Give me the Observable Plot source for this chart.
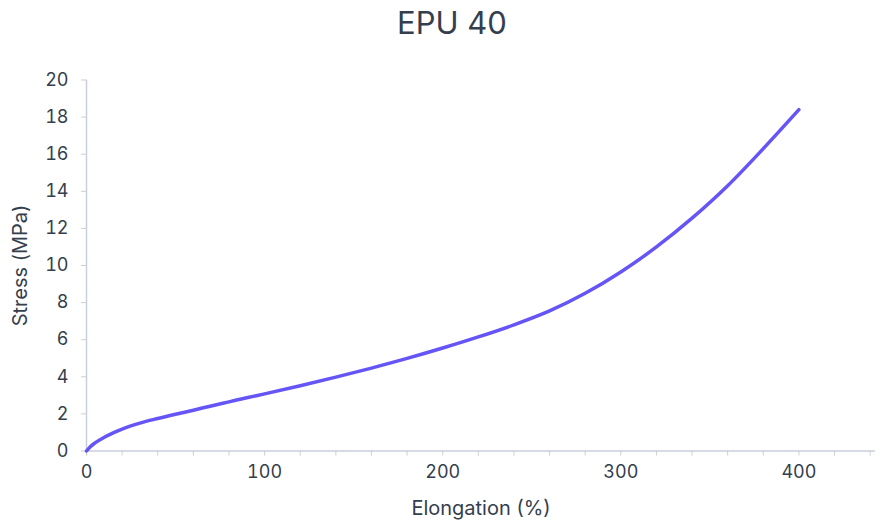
<!DOCTYPE html>
<html>
<head>
<meta charset="utf-8">
<script src="https://cdn.jsdelivr.net/npm/d3@7"></script>
<script src="https://cdn.jsdelivr.net/npm/@observablehq/plot@0.6"></script>
<style>
  body { margin: 0; background: #fff; font-family: Inter, "Noto Sans", sans-serif; }
  #title { height: 50px; position: relative; }
  #title span { position: absolute; left: 452px; top: 22px; transform: translate(-50%, -50%); font-size: 31px; color: #343e4d; white-space: nowrap; }
</style>
</head>
<body>
<div id="title"><span>EPU 40</span></div>
<div id="chart"></div>
<script>
const elongation = [0, 2, 5, 10, 15, 20, 30, 40, 50, 60, 70, 80, 90, 100, 120, 140, 160, 180, 200, 220, 240, 260, 280, 300, 320, 340, 360, 380, 400];
const stress     = [0, 0.22, 0.45, 0.74, 0.98, 1.18, 1.5, 1.75, 1.98, 2.2, 2.43, 2.65, 2.87, 3.08, 3.52, 3.98, 4.47, 4.99, 5.55, 6.15, 6.8, 7.55, 8.5, 9.65, 11.0, 12.55, 14.3, 16.3, 18.4];
const xTicks = d3.range(0, 441, 20);
const yTicks = d3.range(0, 21, 2);
const data = elongation.map((e, i) => ({e, s: stress[i]}));

const axisGray = "#c9ced9";
const textColor = "#343e4d";

const chart = Plot.plot({
  width: 877,
  height: 475,
  marginLeft: 86,
  marginRight: 2,
  marginTop: 29.5,
  marginBottom: 74.5,
  style: {fontFamily: "Inter, 'Noto Sans', sans-serif", fontSize: "18px", color: textColor, background: "#fff"},
  x: {domain: [0, 443]},
  y: {domain: [0, 20]},
  marks: [
    Plot.axisX({ticks: xTicks, tickFormat: d => d % 100 === 0 ? d : "", tickSize: 5, tickPadding: 9, stroke: axisGray, fill: textColor,
      label: null, fontSize: 18}),
    Plot.axisX({ticks: [], label: "Elongation (%)", labelAnchor: "center", labelArrow: "none", labelOffset: 64, fontSize: 20, fill: textColor}),
    Plot.axisY({ticks: yTicks, tickSize: 5, tickPadding: 13, stroke: axisGray, fill: textColor,
      label: null, fontSize: 18}),
    Plot.axisY({ticks: [], label: "Stress (MPa)", labelAnchor: "center", labelArrow: "none", labelOffset: 74, fontSize: 20, fill: textColor}),
    Plot.ruleY([0], {stroke: axisGray, strokeWidth: 1.5}),
    Plot.ruleX([0], {stroke: axisGray, strokeWidth: 1.5}),
    Plot.line(data, {x: "e", y: "s", stroke: "#6655f6", strokeWidth: 3.5, curve: "monotone-x", strokeLinecap: "round"})
  ]
});
document.getElementById("chart").appendChild(chart);
</script>
</body>
</html>
